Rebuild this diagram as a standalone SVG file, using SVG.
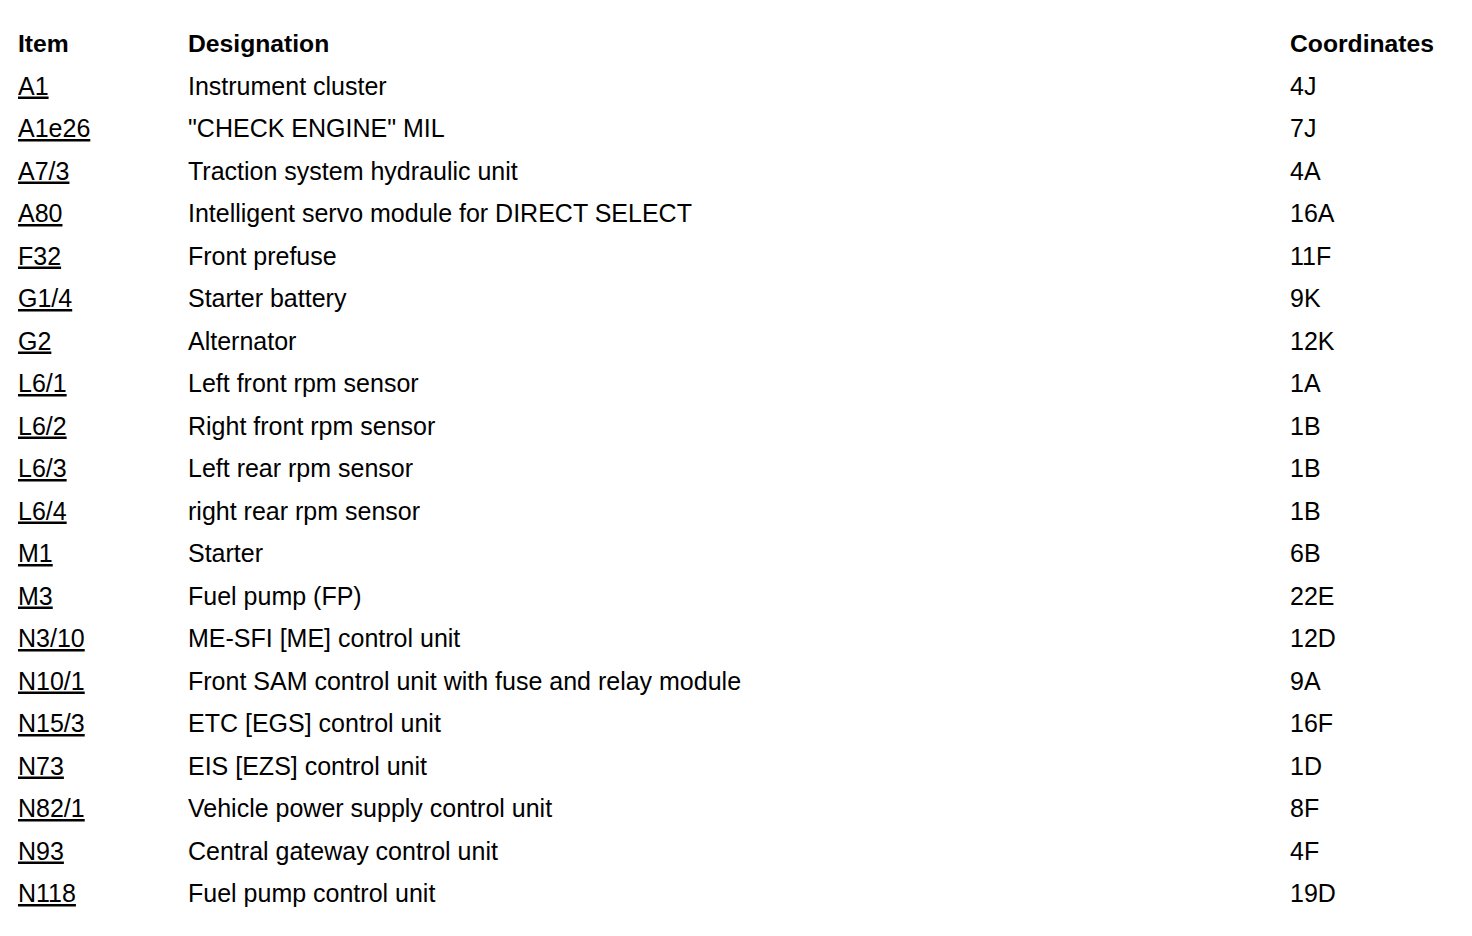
<svg xmlns="http://www.w3.org/2000/svg" width="1472" height="936" viewBox="0 0 1472 936">
<style>
text{font-family:"Liberation Sans",Arial,sans-serif;font-size:25px;fill:#000}
.h{font-weight:bold;font-size:24.7px}
.u{text-decoration:underline}
</style>
<rect width="1472" height="936" fill="#fff"/>
<g id="header">
<text class="h" x="18" y="52">Item</text>
<text class="h" x="188" y="52">Designation</text>
<text class="h" x="1290" y="52">Coordinates</text>
</g>
<g id="items">
<text class="u" x="18" y="94.5">A1</text>
<text class="u" x="18" y="137">A1e26</text>
<text class="u" x="18" y="179.5">A7/3</text>
<text class="u" x="18" y="222">A80</text>
<text class="u" x="18" y="264.5">F32</text>
<text class="u" x="18" y="307">G1/4</text>
<text class="u" x="18" y="349.5">G2</text>
<text class="u" x="18" y="392">L6/1</text>
<text class="u" x="18" y="434.5">L6/2</text>
<text class="u" x="18" y="477">L6/3</text>
<text class="u" x="18" y="519.5">L6/4</text>
<text class="u" x="18" y="562">M1</text>
<text class="u" x="18" y="604.5">M3</text>
<text class="u" x="18" y="647">N3/10</text>
<text class="u" x="18" y="689.5">N10/1</text>
<text class="u" x="18" y="732">N15/3</text>
<text class="u" x="18" y="774.5">N73</text>
<text class="u" x="18" y="817">N82/1</text>
<text class="u" x="18" y="859.5">N93</text>
<text class="u" x="18" y="902">N118</text>
</g>
<g id="designations">
<text x="188" y="94.5">Instrument cluster</text>
<text x="188" y="137">"CHECK ENGINE" MIL</text>
<text x="188" y="179.5">Traction system hydraulic unit</text>
<text x="188" y="222">Intelligent servo module for DIRECT SELECT</text>
<text x="188" y="264.5">Front prefuse</text>
<text x="188" y="307">Starter battery</text>
<text x="188" y="349.5">Alternator</text>
<text x="188" y="392">Left front rpm sensor</text>
<text x="188" y="434.5">Right front rpm sensor</text>
<text x="188" y="477">Left rear rpm sensor</text>
<text x="188" y="519.5">right rear rpm sensor</text>
<text x="188" y="562">Starter</text>
<text x="188" y="604.5">Fuel pump (FP)</text>
<text x="188" y="647">ME-SFI [ME] control unit</text>
<text x="188" y="689.5">Front SAM control unit with fuse and relay module</text>
<text x="188" y="732">ETC [EGS] control unit</text>
<text x="188" y="774.5">EIS [EZS] control unit</text>
<text x="188" y="817">Vehicle power supply control unit</text>
<text x="188" y="859.5">Central gateway control unit</text>
<text x="188" y="902">Fuel pump control unit</text>
</g>
<g id="coordinates">
<text x="1290" y="94.5">4J</text>
<text x="1290" y="137">7J</text>
<text x="1290" y="179.5">4A</text>
<text x="1290" y="222">16A</text>
<text x="1290" y="264.5">11F</text>
<text x="1290" y="307">9K</text>
<text x="1290" y="349.5">12K</text>
<text x="1290" y="392">1A</text>
<text x="1290" y="434.5">1B</text>
<text x="1290" y="477">1B</text>
<text x="1290" y="519.5">1B</text>
<text x="1290" y="562">6B</text>
<text x="1290" y="604.5">22E</text>
<text x="1290" y="647">12D</text>
<text x="1290" y="689.5">9A</text>
<text x="1290" y="732">16F</text>
<text x="1290" y="774.5">1D</text>
<text x="1290" y="817">8F</text>
<text x="1290" y="859.5">4F</text>
<text x="1290" y="902">19D</text>
</g>
</svg>
